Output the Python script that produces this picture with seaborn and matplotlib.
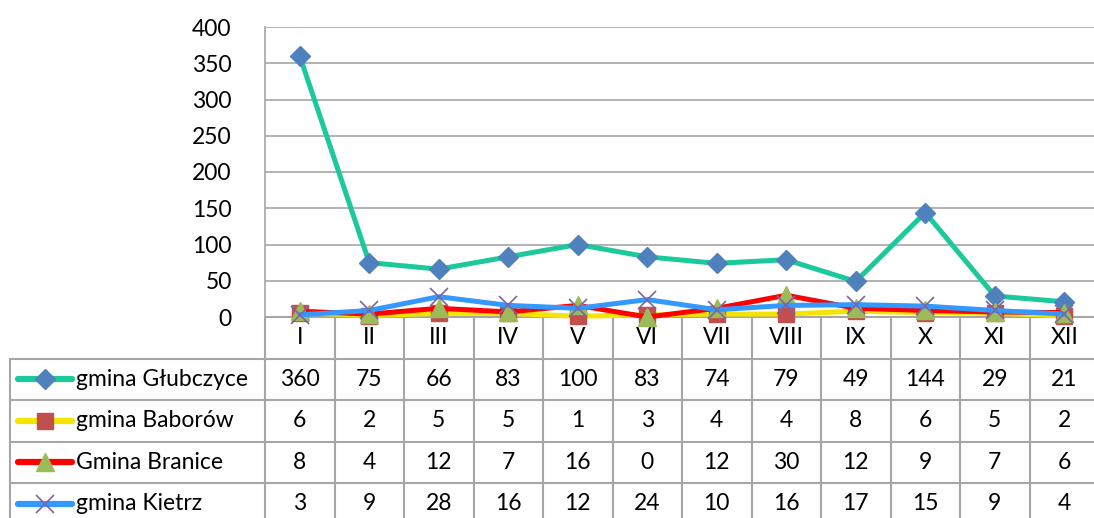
import matplotlib
matplotlib.use("Agg")
import matplotlib.pyplot as plt
from matplotlib.lines import Line2D
import seaborn as sns

months = ["I", "II", "III", "IV", "V", "VI", "VII", "VIII", "IX", "X", "XI", "XII"]
glubczyce = [360, 75, 66, 83, 100, 83, 74, 79, 49, 144, 29, 21]
baborow = [6, 2, 5, 5, 1, 3, 4, 4, 8, 6, 5, 2]
branice = [8, 4, 12, 7, 16, 0, 12, 30, 12, 9, 7, 6]
kietrz = [3, 9, 28, 16, 12, 24, 10, 16, 17, 15, 9, 4]
series_names = ["gmina Głubczyce", "gmina Baborów", "Gmina Branice", "gmina Kietrz"]
y_ticks = [0, 50, 100, 150, 200, 250, 300, 350, 400]

styles = [
    dict(color="#1BC99A", marker="D", ms=10, mfc="#4F81BD", mec="#4F81BD", mew=1),
    dict(color="#F5E400", marker="s", ms=12, mfc="#C0504D", mec="#C0504D", mew=1),
    dict(color="#FF0000", marker="^", ms=13, mfc="#9BBB59", mec="#9BBB59", mew=1),
    dict(color="#3399FF", marker="x", ms=13, mfc="#8064A2", mec="#8064A2", mew=1.2),
]

sns.set_theme(style="white")
plt.rcParams["font.family"] = ["Lato", "DejaVu Sans"]
FS = 16.5

W, H = 1094, 518
fig = plt.figure(figsize=(W / 100, H / 100), dpi=100)

# geometry in pixels
x0, cw = 265, 69.5
y_top, y_zero = 27, 317
row_h = 41.5
grid_c = "#A6A6A6"

# background axes in pixel coords for the data table
tab = fig.add_axes([0, 0, 1, 1])
tab.set_xlim(0, W)
tab.set_ylim(H, 0)
tab.axis("off")

ax = fig.add_axes([x0 / W, 1 - y_zero / H, 12 * cw / W, (y_zero - y_top) / H])
ax.set_facecolor("none")

all_vals = [glubczyce, baborow, branice, kietrz]
xs = list(range(len(months)))
for name, vals, st in zip(series_names, all_vals, styles):
    sns.lineplot(x=xs, y=vals, ax=ax, color=st["color"], lw=3.6, marker=st["marker"],
                 markersize=st["ms"], markerfacecolor=st["mfc"], markeredgecolor=st["mec"],
                 markeredgewidth=st["mew"], clip_on=False, zorder=3)

ax.set_xlim(-0.5, 11.5)
ax.set_ylim(0, 400)
ax.set_yticks(y_ticks)
ax.set_yticklabels([str(t) for t in y_ticks], fontsize=FS, color="black")
ax.set_xticks([])
ax.tick_params(axis="y", length=0, pad=24)
for lbl in ax.get_yticklabels():
    lbl.set_horizontalalignment("right")
ax.yaxis.grid(True, color=grid_c, lw=1.2)
for s in ["top", "right", "bottom"]:
    ax.spines[s].set_visible(False)
ax.spines["left"].set_color(grid_c)
ax.spines["left"].set_linewidth(1.2)

# table lines
y_rows = [y_zero + row_h * i for i in range(6)]
tab_left = 10
right = x0 + 12 * cw
for i in range(1, 6):
    tab.add_line(Line2D([tab_left, right], [y_rows[i], y_rows[i]], color=grid_c, lw=1.5))
tab.add_line(Line2D([x0, right], [y_zero, y_zero], color=grid_c, lw=1.5))
tab.add_line(Line2D([tab_left, tab_left], [y_rows[1], H + 10], color=grid_c, lw=1.5))
for j in range(13):
    xx = x0 + j * cw
    tab.add_line(Line2D([xx, xx], [y_zero, H + 10], color=grid_c, lw=1.5))

# header: month labels
for j, m in enumerate(months):
    tab.text(x0 + (j + 0.5) * cw, (y_rows[0] + y_rows[1]) / 2, m, ha="center", va="center",
             fontsize=FS, color="black")

# rows: legend key + label + values
for i, (name, vals, st) in enumerate(zip(series_names, all_vals, styles)):
    yc = (y_rows[i + 1] + y_rows[i + 2]) / 2
    tab.add_line(Line2D([18, 72], [yc, yc], color=st["color"], lw=4.5, solid_capstyle="round"))
    tab.add_line(Line2D([45], [yc], marker=st["marker"], markersize=st["ms"], markerfacecolor=st["mfc"],
                        markeredgecolor=st["mec"], markeredgewidth=st["mew"], lw=0))
    tab.text(76, yc, name, ha="left", va="center", fontsize=FS, color="black")
    for j, v in enumerate(vals):
        tab.text(x0 + (j + 0.5) * cw, yc, str(v), ha="center", va="center", fontsize=FS, color="black")

fig.savefig("out.png", dpi=100)
